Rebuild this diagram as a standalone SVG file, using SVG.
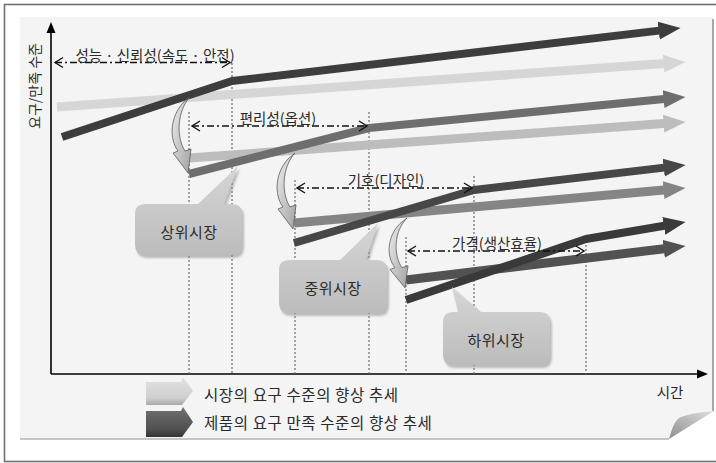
<svg xmlns="http://www.w3.org/2000/svg" width="716" height="463" viewBox="0 0 716 463">
<style>
text{font-family:"Noto Sans CJK KR","Noto Sans",sans-serif;fill:#2a2a2a}
.lbl{font-size:14.5px;text-anchor:middle}
.co{font-size:15px;letter-spacing:0.5px;text-anchor:middle;dominant-baseline:central}
.leg{font-size:15.5px;letter-spacing:0.6px}
.dim{fill:none;stroke:#111;stroke-width:1.3;stroke-dasharray:7 3 2 3}
.chev{fill:none;stroke:#111;stroke-width:1.4}
.vd{fill:none;stroke:#6a6a6a;stroke-width:1.2;stroke-dasharray:2 2}
.tr{fill:none;stroke-linecap:butt;stroke-linejoin:round}
.cv{fill:url(#gc);stroke:#5a5a5a;stroke-width:0.8}
.callout{fill:url(#gb)}
.shadow{fill:#8c8c8c;opacity:0.55;filter:url(#blur)}
</style>
<defs>
<linearGradient id="gc" x1="0" y1="0" x2="1" y2="1"><stop offset="0" stop-color="#eeeeee"/><stop offset="1" stop-color="#a2a2a2"/></linearGradient>
<linearGradient id="gb" x1="0" y1="0" x2="0" y2="1"><stop offset="0" stop-color="#d6d6d6"/><stop offset="1" stop-color="#bcbcbc"/></linearGradient>
<linearGradient id="gl1" x1="0" y1="0" x2="0" y2="1"><stop offset="0" stop-color="#e2e2e2"/><stop offset="0.75" stop-color="#cfcfcf"/><stop offset="1" stop-color="#a8a8a8"/></linearGradient>
<linearGradient id="gl2" x1="0" y1="0" x2="0" y2="1"><stop offset="0" stop-color="#707070"/><stop offset="0.75" stop-color="#505050"/><stop offset="1" stop-color="#333"/></linearGradient>
<linearGradient id="gcurl" x1="0" y1="1" x2="1" y2="0"><stop offset="0" stop-color="#8e8e8e"/><stop offset="1" stop-color="#e0e0e0"/></linearGradient>
<filter id="blur" x="-10%" y="-10%" width="120%" height="130%"><feGaussianBlur stdDeviation="1.2"/></filter>
<marker id="m1" markerUnits="userSpaceOnUse" viewBox="0 -10 24 20" markerWidth="24" markerHeight="20" refX="0.5" refY="0" orient="auto"><path d="M0,-9 L22,0 L0,9 Z" fill="#3d3d3d"/></marker>
<marker id="m2" markerUnits="userSpaceOnUse" viewBox="0 -10 24 20" markerWidth="24" markerHeight="20" refX="0.5" refY="0" orient="auto"><path d="M0,-9 L22,0 L0,9 Z" fill="#d6d6d6"/></marker>
<marker id="m3" markerUnits="userSpaceOnUse" viewBox="0 -10 24 20" markerWidth="24" markerHeight="20" refX="0.5" refY="0" orient="auto"><path d="M0,-9 L22,0 L0,9 Z" fill="#6e6e6e"/></marker>
<marker id="m4" markerUnits="userSpaceOnUse" viewBox="0 -10 24 20" markerWidth="24" markerHeight="20" refX="0.5" refY="0" orient="auto"><path d="M0,-9 L22,0 L0,9 Z" fill="#bdbdbd"/></marker>
<marker id="m5" markerUnits="userSpaceOnUse" viewBox="0 -10 24 20" markerWidth="24" markerHeight="20" refX="0.5" refY="0" orient="auto"><path d="M0,-9 L22,0 L0,9 Z" fill="#474747"/></marker>
<marker id="m6" markerUnits="userSpaceOnUse" viewBox="0 -10 24 20" markerWidth="24" markerHeight="20" refX="0.5" refY="0" orient="auto"><path d="M0,-9 L22,0 L0,9 Z" fill="#858585"/></marker>
<marker id="m7" markerUnits="userSpaceOnUse" viewBox="0 -10 24 20" markerWidth="24" markerHeight="20" refX="0.5" refY="0" orient="auto"><path d="M0,-9 L22,0 L0,9 Z" fill="#3a3a3a"/></marker>
<marker id="m8" markerUnits="userSpaceOnUse" viewBox="0 -10 24 20" markerWidth="24" markerHeight="20" refX="0.5" refY="0" orient="auto"><path d="M0,-9 L22,0 L0,9 Z" fill="#525252"/></marker>
<path id="curv" d="M0,0 L-7,6 C-20,20 -21,42 -12,54 L-17,56 L-2,76 L1,52 L-5,54 C-14,40 -13,14 0,0 Z"/>
</defs>

<rect x="0" y="0" width="716" height="463" fill="#fff"/>
<rect x="4.5" y="4.5" width="730" height="457" fill="none" stroke="#707070" stroke-width="1.6"/>

<g id="paper">
<path d="M20,17 L713,17 L713,411 L669,439 L20,439 Z" fill="#f4f4f4"/>
<line x1="713" y1="19" x2="713" y2="411" stroke="#a8a8a8" stroke-width="2"/>
<line x1="20" y1="439" x2="669" y2="439" stroke="#b4b4b4" stroke-width="1.5"/>
<path d="M669,439 C672,429 674,422 679,418 C690,413 705,412 714,411 Z" fill="url(#gcurl)"/>
</g>

<g id="axes">
<line x1="51" y1="31" x2="51" y2="374" stroke="#000" stroke-width="1.6"/>
<path d="M51,22 L46.5,33 L55.5,33 Z" fill="#000"/>
<line x1="51" y1="374" x2="698" y2="374" stroke="#000" stroke-width="1.6"/>
<path d="M708,374 L697,369.5 L697,378.5 Z" fill="#000"/>
<text transform="translate(34,86) rotate(-90)" style="font-size:14px;text-anchor:middle;dominant-baseline:central">요구/만족 수준</text>
<text x="670" y="391" style="font-size:14.5px;text-anchor:middle;dominant-baseline:central">시간</text>
</g>

<g id="guides">
<line class="vd" x1="232" y1="63" x2="232" y2="374"/>
<line class="vd" x1="189" y1="112" x2="189" y2="374"/>
<line class="vd" x1="369" y1="112" x2="369" y2="374"/>
<line class="vd" x1="295" y1="180" x2="295" y2="374"/>
<line class="vd" x1="474" y1="176" x2="474" y2="374"/>
<line class="vd" x1="406" y1="237" x2="406" y2="374"/>
<line class="vd" x1="586" y1="237" x2="586" y2="374"/>
</g>

<g id="connectors">
<path class="tr" d="M57,107 L664.1,63.6" stroke="#d6d6d6" stroke-width="9" marker-end="url(#m2)"/>
<path class="tr" d="M62,137 L232,81 L659.2,30.6" stroke="#3d3d3d" stroke-width="8" marker-end="url(#m1)"/>
<path class="tr" d="M189,158 L664.1,123.6" stroke="#bdbdbd" stroke-width="9" marker-end="url(#m4)"/>
<path class="tr" d="M189,174 L369,128 L664.1,99.1" stroke="#6e6e6e" stroke-width="8" marker-end="url(#m3)"/>
<path class="tr" d="M294,223 L664.1,190" stroke="#858585" stroke-width="9" marker-end="url(#m6)"/>
<path class="tr" d="M294,243 L474,190 L664.2,167.6" stroke="#474747" stroke-width="8" marker-end="url(#m5)"/>
<path class="tr" d="M406,280 L664.2,248.7" stroke="#525252" stroke-width="9" marker-end="url(#m8)"/>
<path class="tr" d="M406,300 L586,239 L664.3,225.7" stroke="#3a3a3a" stroke-width="8" marker-end="url(#m7)"/>
<use href="#curv" class="cv" transform="translate(190,97)"/>
<use href="#curv" class="cv" transform="translate(295,153)"/>
<use href="#curv" class="cv" transform="translate(407,218) scale(1,0.92)"/>
</g>

<g id="dim-performance">
<line class="dim" x1="55" y1="62.5" x2="230" y2="62.5"/>
<polyline class="chev" points="63,57.5 55,62.5 63,67.5"/>
<polyline class="chev" points="222,57.5 230,62.5 222,67.5"/>
<text class="lbl" x="155" y="61">성능 · 신뢰성(속도 · 안전)</text>
</g>
<g id="dim-convenience">
<line class="dim" x1="192" y1="126" x2="367" y2="126"/>
<polyline class="chev" points="200,121 192,126 200,131"/>
<polyline class="chev" points="359,121 367,126 359,131"/>
<text class="lbl" x="278" y="124">편리성(옵션)</text>
</g>
<g id="dim-taste">
<line class="dim" x1="297" y1="188" x2="472" y2="188"/>
<polyline class="chev" points="305,183 297,188 305,193"/>
<polyline class="chev" points="464,183 472,188 464,193"/>
<text class="lbl" x="386" y="186">기호(디자인)</text>
</g>
<g id="dim-price">
<line class="dim" x1="408" y1="251" x2="584" y2="251"/>
<polyline class="chev" points="416,246 408,251 416,256"/>
<polyline class="chev" points="576,246 584,251 576,256"/>
<text class="lbl" x="497" y="249">가격(생산효율)</text>
</g>

<g id="upper-market">
<path class="shadow" transform="translate(2,3)" d="M145,204 L198,204 L238,166 L224,204 L232,204 Q242,204 242,214 L242,245 Q242,255 232,255 L145,255 Q135,255 135,245 L135,214 Q135,204 145,204 Z"/>
<path class="callout" d="M145,204 L198,204 L238,166 L224,204 L232,204 Q242,204 242,214 L242,245 Q242,255 232,255 L145,255 Q135,255 135,245 L135,214 Q135,204 145,204 Z"/>
<text class="co" x="189" y="231">상위시장</text>
</g>
<g id="middle-market">
<path class="shadow" transform="translate(2,3)" d="M289,260 L340,260 L378,223 L366,260 L377,260 Q387,260 387,270 L387,303 Q387,313 377,313 L289,313 Q279,313 279,303 L279,270 Q279,260 289,260 Z"/>
<path class="callout" d="M289,260 L340,260 L378,223 L366,260 L377,260 Q387,260 387,270 L387,303 Q387,313 377,313 L289,313 Q279,313 279,303 L279,270 Q279,260 289,260 Z"/>
<text class="co" x="333" y="287">중위시장</text>
</g>
<g id="lower-market">
<path class="shadow" transform="translate(2,3)" d="M453,312 L458,312 L452,287 L481,312 L540,312 Q550,312 550,322 L550,355 Q550,365 540,365 L453,365 Q443,365 443,355 L443,322 Q443,312 453,312 Z"/>
<path class="callout" d="M453,312 L458,312 L452,287 L481,312 L540,312 Q550,312 550,322 L550,355 Q550,365 540,365 L453,365 Q443,365 443,355 L443,322 Q443,312 453,312 Z"/>
<text class="co" x="496" y="339">하위시장</text>
</g>

<g id="legend-market">
<path d="M146,382 H181 L183,377 L193,391 L182,405 H146 Z" fill="url(#gl1)"/>
<text class="leg" x="204" y="401">시장의 요구 수준의 향상 추세</text>
</g>
<g id="legend-product">
<path d="M146,411 H181 L183,407 L193,422 L182,437 H146 Z" fill="url(#gl2)"/>
<text class="leg" x="204" y="429">제품의 요구 만족 수준의 향상 추세</text>
</g>
</svg>
